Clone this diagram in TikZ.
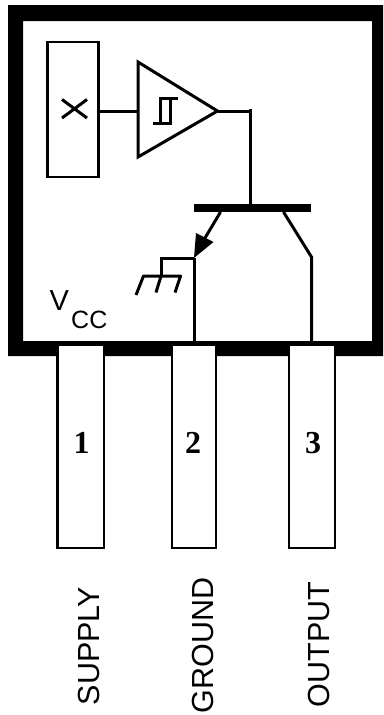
\documentclass[tikz,border=0pt]{standalone}
\usepackage{fontspec}
\setmainfont{Liberation Sans}
\newfontfamily\digitfont{Liberation Serif}
\begin{document}
\begin{tikzpicture}[x=1pt,y=-1pt,
  wire/.style={draw=black,line width=3pt,line cap=butt,line join=miter},
  thinbox/.style={draw=black,line width=2.1pt,fill=white},
  label/.style={inner sep=0pt,font=\fontsize{30.5}{31}\selectfont},
  pinnum/.style={inner sep=0pt,anchor=base,font=\digitfont\bfseries\fontsize{32}{32}\selectfont}]
\useasboundingbox (0,0) rectangle (383,715);
% package
\fill[black,even odd rule] (8,5) rectangle (383,356) (23,21) rectangle (372,341);
% pins
\coordinate (p1t) at (80.5,345); \coordinate (p2t) at (194,345); \coordinate (p3t) at (311.7,345);
\draw[thinbox] (57.5,345) rectangle (103.7,548);
\draw[thinbox] (172,345) rectangle (215.7,548);
\draw[thinbox] (288.7,345) rectangle (334.7,548);
\node[pinnum] (n1) at (81.5,453) {1};
\node[pinnum] (n2) at (193,453) {2};
\node[pinnum] (n3) at (313,453) {3};
\node[label,rotate=90,anchor=base west] (supply) at (99,705.5) {SUPPLY};
\node[label,rotate=90,anchor=base west] (ground) at (213,713.5) {GROUND};
\node[label,rotate=90,anchor=base west] (output) at (329,707.5) {OUTPUT};
% hall element
\draw[draw=black,line width=2.1pt] (47.5,42) rectangle (98.5,177);
\draw[wire] (62,99.5) -- (87,118) (62,118) -- (87,99.5);
\coordinate (boxout) at (100,111);
% schmitt amp
\coordinate (ampa) at (138,62); \coordinate (ampb) at (138,157); \coordinate (ampo) at (217.5,111);
\draw[wire] (ampa) -- (ampo) -- (ampb) -- cycle;
\draw[wire] (boxout) -- (138,111);
\draw[wire] (153,123.5) -- (170,123.5) -- (170,98.5) -- (178,98.5);
\draw[wire] (170,123.5) -- (160.5,123.5) -- (160.5,98.5) -- (170,98.5);
% output to base
\coordinate (basep) at (250,205);
\draw[wire] (ampo) -- (250,111);
\draw[wire] (250,109) -- (basep);
\fill[black] (194,204) rectangle (311,212);
% transistor
\coordinate (em) at (194,258); \coordinate (col) at (311.5,257);
\draw[wire] (220.5,212) -- (205,238);
\fill[black] (em) -- (196,233) -- (213.5,242) -- cycle;
\draw[wire] (em) -- (194,341);
\draw[wire] (283.5,212) -- (col) -- (311.5,341);
% ground
\draw[wire] (em) -- (161,258) -- (161,276);
\draw[wire,line join=round] (136,295) -- (143.5,276) -- (180.5,276) -- (175,292.5);
\draw[wire] (161,276) -- (156,292.5);
% vcc
\node[label,anchor=base west,font=\fontsize{29}{30}\selectfont] (v) at (49.5,310) {V};
\node[label,anchor=base west,font=\fontsize{25}{26}\selectfont] (cc) at (71,328) {CC};
\end{tikzpicture}
\end{document}
